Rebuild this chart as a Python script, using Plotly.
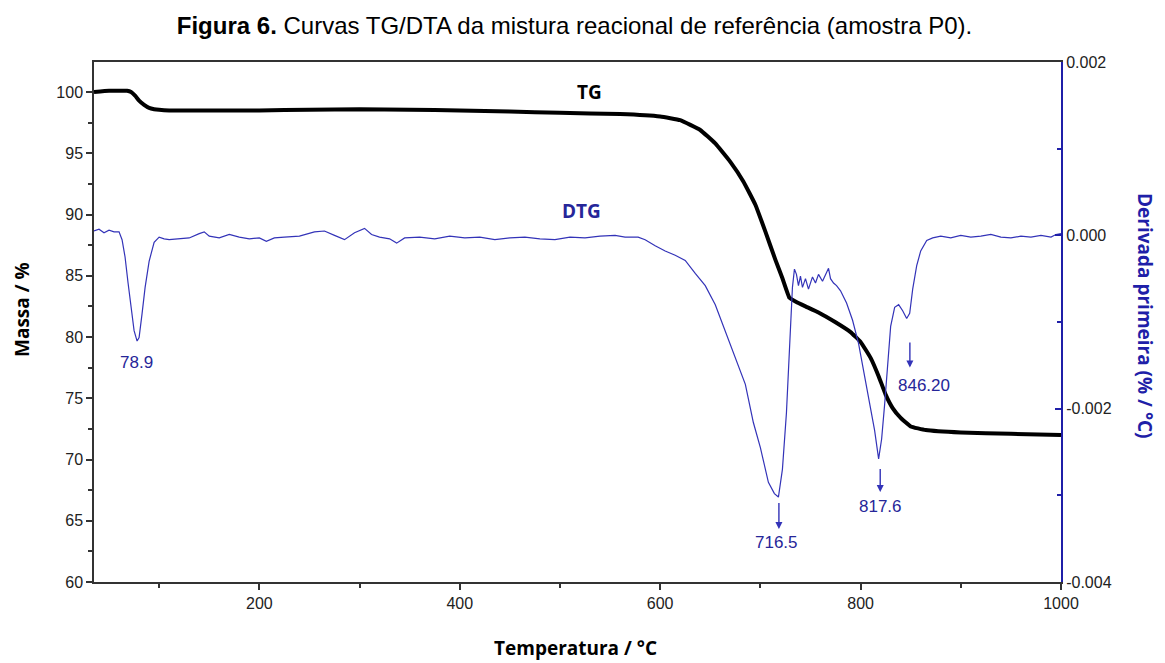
import plotly.graph_objects as go

# ---- TG curve (mass %) ----
tg_temp = [35, 50, 60, 68, 72, 76, 80, 85, 90, 95, 100, 110, 150, 200, 250, 300, 350, 400, 450, 500,
           560, 600, 620, 640, 655, 670, 683, 695, 705, 715, 722, 729, 735, 745, 758, 775, 790,
           800, 810, 818, 825, 832, 840, 850, 865, 900, 950, 1000]
tg_mass = [100.0, 100.1, 100.1, 100.1, 100.0, 99.7, 99.3, 98.95, 98.7, 98.6, 98.55, 98.5, 98.5, 98.5,
           98.55, 98.6, 98.55, 98.5, 98.4, 98.3, 98.2, 98.0, 97.7, 96.9, 95.8, 94.3, 92.7, 90.8, 88.6,
           86.3, 84.8, 83.2, 82.9, 82.5, 82.0, 81.2, 80.4, 79.6, 78.3, 76.8, 75.3, 74.2, 73.4, 72.7,
           72.4, 72.2, 72.1, 72.0]

# ---- DTG curve (% / °C) ----
dtg_temp = [35, 40, 45, 50, 55, 60, 63, 66, 69, 72, 75, 78, 80, 83, 86, 90, 95, 100, 105, 110, 120,
            130, 140, 145, 150, 160, 170, 180, 190, 200, 207, 215, 225, 240, 255, 265, 275, 285, 295,
            305, 312, 320, 330, 337, 345, 360, 375, 390, 405, 420, 435, 450, 465, 480, 495, 510, 525,
            540, 555, 565, 578, 585, 595, 605, 615, 625, 635, 645, 655, 665, 675, 685, 693, 700, 708,
            714, 718, 722, 726, 729, 732, 734, 736, 738, 740, 742, 745, 748, 752, 755, 758, 762, 766,
            768, 770, 773, 776, 780, 786, 792, 798, 804, 810, 814, 818, 821, 824, 827, 830, 834, 838,
            842, 846, 849, 852, 856, 860, 866, 872, 880, 890, 900, 910, 920, 930, 940, 950, 960, 970,
            980, 990, 995, 1000]
dtg_val = [0.00005, 0.00007, 0.00003, 0.00006, 0.00004, 0.00004, -0.00005, -0.00025, -0.00055,
           -0.00085, -0.00110, -0.00122, -0.00118, -0.00090, -0.00060, -0.00030, -0.00008, -0.00002,
           -0.00004, -0.00005, -0.00004, -0.00003, 0.00002, 0.00004, -0.00001, -0.00003, 0.00001,
           -0.00002, -0.00004, -0.00003, -0.00007, -0.00003, -0.00002, -0.00001, 0.00004, 0.00005,
           0.00000, -0.00005, 0.00003, 0.00008, 0.00001, -0.00002, -0.00004, -0.00009, -0.00003,
           -0.00002, -0.00004, -0.00001, -0.00003, -0.00002, -0.00005, -0.00003, -0.00002, -0.00004,
           -0.00005, -0.00002, -0.00003, -0.00001, 0.00000, -0.00002, -0.00002, -0.00005, -0.00012,
           -0.00018, -0.00023, -0.00029, -0.00044, -0.00058, -0.00080, -0.00110, -0.00140, -0.00172,
           -0.00216, -0.00245, -0.00285, -0.00298, -0.00302, -0.00270, -0.00205, -0.00130, -0.00060,
           -0.00039, -0.00045, -0.00058, -0.00047, -0.00060, -0.00050, -0.00062, -0.00048, -0.00055,
           -0.00045, -0.00053, -0.00042, -0.00038, -0.00050, -0.00055, -0.00058, -0.00064, -0.00078,
           -0.00098, -0.00125, -0.00163, -0.00200, -0.00225, -0.00258, -0.00235, -0.00195, -0.00145,
           -0.00105, -0.00083, -0.00080, -0.00087, -0.00096, -0.00090, -0.00062, -0.00035, -0.00018,
           -0.00006, -0.00003, -0.00001, -0.00003, 0.00000, -0.00002, -0.00001, 0.00001, -0.00002,
           -0.00003, -0.00001, -0.00002, 0.00000, -0.00002, 0.00001, 0.00002]

# ---- peak labels ----
peak_temp = [78.0, 716.5, 817.6, 846.2]
peak_val = [-0.00122, -0.00302, -0.00258, -0.00096]
peak_text = ["78.9", "716.5", "817.6", "846.20"]

x_ticks = [200, 400, 600, 800, 1000]
y_ticks = [60, 65, 70, 75, 80, 85, 90, 95, 100]
y2_ticks = [-0.004, -0.002, 0.0, 0.002]
y2_labels = ["-0.004", "-0.002", "0.000", "0.002"]

BLUE_LINE = "#3333b8"
BLUE_TEXT = "#262699"
AXIS_BLUE = "#1f1fa8"

fig = go.Figure()
fig.add_trace(go.Scatter(x=tg_temp, y=tg_mass, mode="lines", name="TG",
                         line=dict(color="black", width=4, shape="spline", smoothing=0.3),
                         yaxis="y"))
fig.add_trace(go.Scatter(x=dtg_temp, y=dtg_val, mode="lines", name="DTG",
                         line=dict(color=BLUE_LINE, width=1.2),
                         yaxis="y2"))

tickfont = dict(family="Liberation Sans, Arial", size=16, color="#222222")

fig.update_layout(
    width=1165, height=663,
    margin=dict(l=94, r=104, t=62, b=81),
    paper_bgcolor="white", plot_bgcolor="white",
    showlegend=False,
    title=dict(text="<b>Figura 6.</b> Curvas TG/DTA da mistura reacional de referência (amostra P0).",
               x=(159 + 990) / 2 / 1165, xanchor="center", y=1 - 26 / 663, yanchor="middle",
               font=dict(family="Liberation Sans, Arial", size=24, color="black")),
    xaxis=dict(range=[35, 1000], tickvals=x_ticks, ticks="outside", ticklen=6, tickwidth=1.5,
               tickcolor="#333333", showline=True, linecolor="#333333", linewidth=1.5, mirror=True,
               showgrid=False, zeroline=False, tickfont=tickfont,
               minor=dict(tickvals=[100, 300, 500, 700, 900], ticks="outside", ticklen=4,
                          tickcolor="#333333", tickwidth=1.5)),
    yaxis=dict(range=[60, 102.45], tickvals=y_ticks, ticks="outside", ticklen=6, tickwidth=1.5,
               tickcolor="#333333", showline=True, linecolor="#333333", linewidth=1.5,
               showgrid=False, zeroline=False, tickfont=tickfont,
               minor=dict(tickvals=[62.5, 67.5, 72.5, 77.5, 82.5, 87.5, 92.5, 97.5], ticks="outside",
                          ticklen=4, tickcolor="#333333", tickwidth=1.5)),
    yaxis2=dict(range=[-0.004, 0.002], overlaying="y", side="right", tickvals=y2_ticks,
                ticktext=y2_labels, ticks="inside", ticklen=6, tickwidth=1.5, tickcolor=AXIS_BLUE,
                showline=True, linecolor=AXIS_BLUE, linewidth=2, showgrid=False, zeroline=False,
                tickfont=tickfont,
                minor=dict(tickvals=[-0.003, -0.001, 0.001], ticks="inside", ticklen=4,
                           tickcolor=AXIS_BLUE, tickwidth=1.5)),
)

ann = []
# axis titles
ann.append(dict(text="<b>Temperatura / °C</b>", xref="paper", yref="paper", x=(575 - 94) / 967,
                y=-(648 - 582) / 520, showarrow=False, xanchor="center", yanchor="middle",
                font=dict(family="Open Sans", size=19, color="black")))
ann.append(dict(text="<b>Massa / %</b>", xref="paper", yref="paper", x=-(94 - 22) / 967,
                y=(582 - 310) / 520, showarrow=False, textangle=-90, xanchor="center",
                yanchor="middle", font=dict(family="Open Sans", size=19, color="black")))
ann.append(dict(text="<b>Derivada primeira (% / °C)</b>", xref="paper", yref="paper",
                x=1 + (1145 - 1061) / 967, y=(582 - 316) / 520, showarrow=False, textangle=90,
                xanchor="center", yanchor="middle",
                font=dict(family="Open Sans", size=19, color=AXIS_BLUE)))
# curve labels
ann.append(dict(text="<b>TG</b>", x=529, y=100.0, xref="x", yref="y",
                showarrow=False, font=dict(family="Open Sans", size=19, color="black")))
ann.append(dict(text="<b>DTG</b>", x=521, y=0.00028, xref="x", yref="y2",
                showarrow=False, font=dict(family="Open Sans", size=19, color=BLUE_TEXT)))

# peak labels
label_font = dict(family="Liberation Sans, Arial", size=17, color=BLUE_TEXT)
text_shift = [(-1, -21), (0, -45), (2, -48), (17, -67)]
arrow_shift = [None, (2, -32, -28), (2, -33, -25), (3, -49, -27)]
for t, v, s, ts, ar in zip(peak_temp, peak_val, peak_text, text_shift, arrow_shift):
    ann.append(dict(text=s, x=t, y=v, xref="x", yref="y2", showarrow=False,
                    xshift=ts[0], yshift=ts[1], font=label_font))
    if ar is not None:
        ann.append(dict(text=" ", x=t, y=v, xref="x", yref="y2", showarrow=True,
                        ax=0, ay=ar[2], xshift=ar[0], yshift=ar[1],
                        arrowhead=2, arrowsize=1, arrowwidth=1.4, arrowcolor=BLUE_LINE,
                        font=dict(size=1)))

fig.update_layout(annotations=ann)
fig.write_html("out.html", config={"displayModeBar": False},
               post_script="document.body.style.margin='0';document.body.style.padding='0';")
